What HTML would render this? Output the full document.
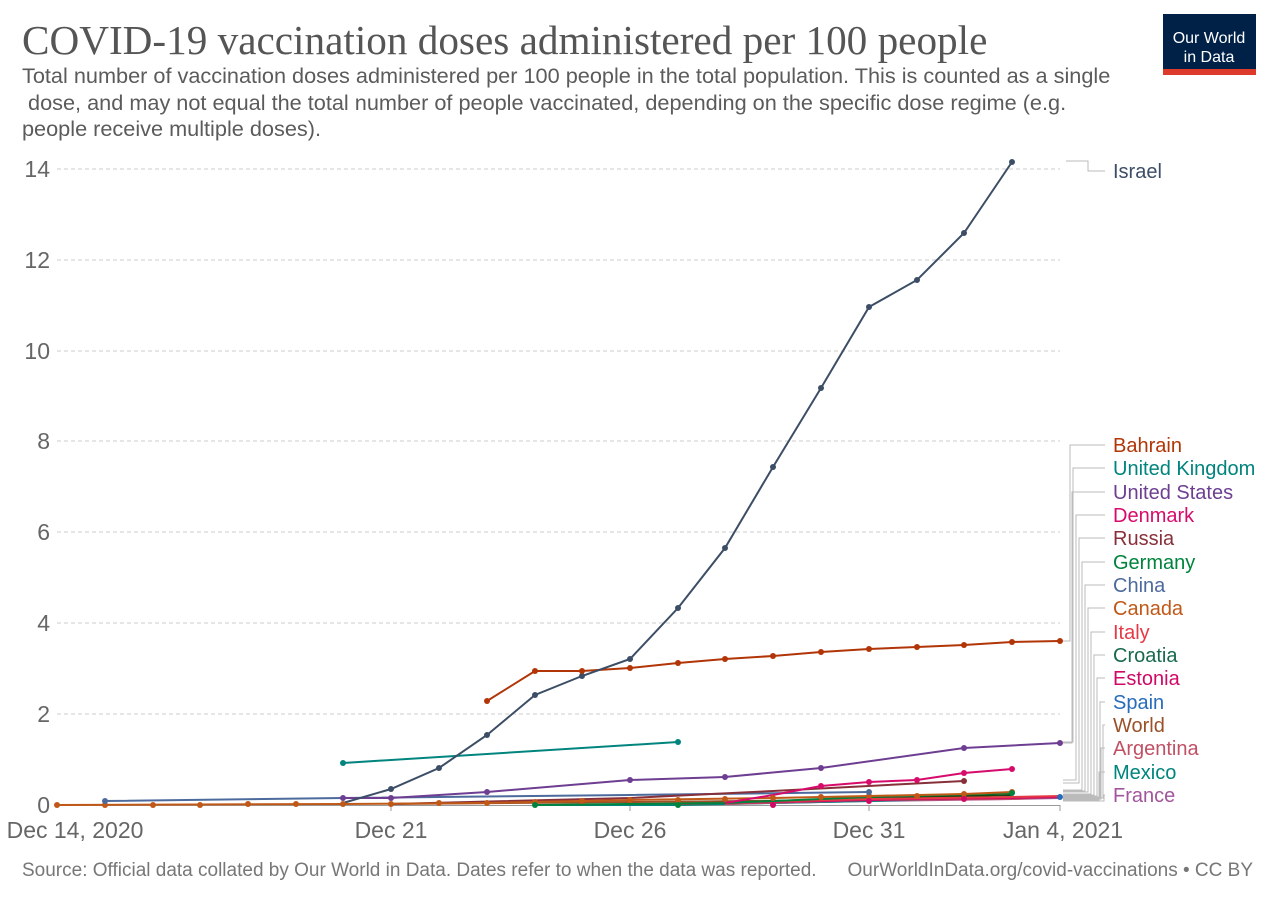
<!DOCTYPE html>
<html><head><meta charset="utf-8"><style>
body{margin:0;background:#fff;width:1280px;height:904px;overflow:hidden;font-family:"Liberation Sans",sans-serif}
</style></head><body>
<svg width="1280" height="904" xmlns="http://www.w3.org/2000/svg" font-family="Liberation Sans, sans-serif">
<text x="22" y="54" font-family="Liberation Serif, serif" font-size="41.2" fill="#555">COVID-19 vaccination doses administered per 100 people</text>
<text font-size="21.7" fill="#5b5b5b"><tspan x="22" y="83">Total number of vaccination doses administered per 100 people in the total population. This is counted as a single</tspan><tspan x="22" y="110"> dose, and may not equal the total number of people vaccinated, depending on the specific dose regime (e.g.</tspan><tspan x="22" y="136">people receive multiple doses).</tspan></text>
<rect x="1163" y="14" width="93" height="61" fill="#002147"/><rect x="1163" y="69" width="93" height="6" fill="#dc3b2c"/>
<text x="1209" y="43" font-size="16" fill="#fff" text-anchor="middle">Our World</text><text x="1209" y="62" font-size="16" fill="#fff" text-anchor="middle">in Data</text>
<g stroke="#ccc" stroke-dasharray="4,3" stroke-width="1">
<line x1="57" x2="1060" y1="169" y2="169"/><line x1="57" x2="1060" y1="260" y2="260"/><line x1="57" x2="1060" y1="351" y2="351"/><line x1="57" x2="1060" y1="441" y2="441"/><line x1="57" x2="1060" y1="532" y2="532"/><line x1="57" x2="1060" y1="623" y2="623"/><line x1="57" x2="1060" y1="714" y2="714"/></g>
<g font-size="23" fill="#666" text-anchor="end"><text x="50" y="177">14</text><text x="50" y="268">12</text><text x="50" y="359">10</text><text x="50" y="449">8</text><text x="50" y="540">6</text><text x="50" y="631">4</text><text x="50" y="722">2</text><text x="50" y="813">0</text></g>
<line x1="57" x2="1060" y1="805.5" y2="805.5" stroke="#999"/>
<g stroke="#999"><line x1="391" x2="391" y1="805" y2="811"/><line x1="630" x2="630" y1="805" y2="811"/><line x1="869" x2="869" y1="805" y2="811"/><line x1="1060" x2="1060" y1="805" y2="811"/></g>
<g font-size="23" fill="#666" text-anchor="middle"><text x="75" y="838">Dec 14, 2020</text><text x="391" y="838">Dec 21</text><text x="630" y="838">Dec 26</text><text x="869" y="838">Dec 31</text><text x="1063" y="838">Jan 4, 2021</text></g>
<g fill="none" stroke-width="2">
<polyline stroke="#a2559c" points="773,803 869,801 1012,799 1060,798"/>
<polyline stroke="#00847e" points="535,805 678,805 773,803 869,801 1012,797 1060,797"/>
<polyline stroke="#c15065" points="725,804 869,800 1012,799 1060,797"/>
<polyline stroke="#9a5129" points="391,804 630,802 869,800 1060,797"/>
<polyline stroke="#286bbb" points="869,799 1060,797"/>
<polyline stroke="#cf0a66" points="725,803 821,801 917,799 1012,798 1060,797"/>
<polyline stroke="#18470f" points="678,804 869,798 1012,795"/>
<polyline stroke="#e63946" points="678,804 869,799 1012,797 1060,796"/>
<polyline stroke="#4c6a9c" points="105,801 343,798 630,795 869,792"/>
<polyline stroke="#00843d" points="535,805 725,803 869,797 1012,793"/>
<polyline stroke="#883039" points="391,804 630,798 773,791 964,781"/>
<polyline stroke="#c05917" points="57,805 343,804 487,803 630,800 773,798 869,796 964,794 1012,792"/>
<polyline stroke="#d60b6b" points="725,803 773,795 821,786 869,782 917,780 964,773 1012,769"/>
<polyline stroke="#6d3e91" points="343,798 391,798 487,792 630,780 725,777 821,768 964,748 1060,743"/>
<polyline stroke="#00847e" points="343,763 678,742"/>
<polyline stroke="#b13507" points="487,701 535,671 582,671 630,668 678,663 725,659 773,656 821,652 869,649 917,647 964,645 1012,642 1060,641"/>
<polyline stroke="#3c4e66" points="343,803 391,789 439,768 487,735 535,695 582,676 630,659 678,608 725,548 773,467 821,388 869,307 917,280 964,233 1012,162"/>
</g>
<g fill="#3c4e66"><circle cx="391" cy="789" r="3"/><circle cx="439" cy="768" r="3"/><circle cx="487" cy="735" r="3"/><circle cx="535" cy="695" r="3"/><circle cx="582" cy="676" r="3"/><circle cx="630" cy="659" r="3"/><circle cx="678" cy="608" r="3"/><circle cx="725" cy="548" r="3"/><circle cx="773" cy="467" r="3"/><circle cx="821" cy="388" r="3"/><circle cx="869" cy="307" r="3"/><circle cx="917" cy="280" r="3"/><circle cx="964" cy="233" r="3"/><circle cx="1012" cy="162" r="3"/></g>
<g fill="#b13507"><circle cx="487" cy="701" r="3"/><circle cx="535" cy="671" r="3"/><circle cx="582" cy="671" r="3"/><circle cx="630" cy="668" r="3"/><circle cx="678" cy="663" r="3"/><circle cx="725" cy="659" r="3"/><circle cx="773" cy="656" r="3"/><circle cx="821" cy="652" r="3"/><circle cx="869" cy="649" r="3"/><circle cx="917" cy="647" r="3"/><circle cx="964" cy="645" r="3"/><circle cx="1012" cy="642" r="3"/><circle cx="1060" cy="641" r="3"/></g>
<g fill="#00847e"><circle cx="343" cy="763" r="3"/><circle cx="678" cy="742" r="3"/></g>
<g fill="#6d3e91"><circle cx="343" cy="798" r="3"/><circle cx="391" cy="798" r="3"/><circle cx="487" cy="792" r="3"/><circle cx="630" cy="780" r="3"/><circle cx="725" cy="777" r="3"/><circle cx="821" cy="768" r="3"/><circle cx="964" cy="748" r="3"/><circle cx="1060" cy="743" r="3"/></g>
<g fill="#d60b6b"><circle cx="821" cy="786" r="3"/><circle cx="869" cy="782" r="3"/><circle cx="917" cy="780" r="3"/><circle cx="964" cy="773" r="3"/><circle cx="1012" cy="769" r="3"/></g>
<g fill="#c05917"><circle cx="57" cy="805" r="3"/><circle cx="105" cy="805" r="3"/><circle cx="153" cy="805" r="3"/><circle cx="200" cy="805" r="3"/><circle cx="248" cy="804" r="3"/><circle cx="296" cy="804" r="3"/><circle cx="343" cy="804" r="3"/><circle cx="391" cy="804" r="3"/><circle cx="439" cy="803" r="3"/><circle cx="487" cy="803" r="3"/><circle cx="535" cy="802" r="3"/><circle cx="582" cy="801" r="3"/><circle cx="630" cy="800" r="3"/><circle cx="678" cy="800" r="3"/><circle cx="725" cy="799" r="3"/><circle cx="773" cy="798" r="3"/><circle cx="821" cy="797" r="3"/><circle cx="869" cy="796" r="3"/><circle cx="917" cy="796" r="3"/><circle cx="964" cy="794" r="3"/><circle cx="1012" cy="792" r="3"/></g>
<circle cx="105" cy="801" r="3" fill="#4c6a9c"/><circle cx="869" cy="792" r="3" fill="#4c6a9c"/>
<circle cx="964" cy="781" r="3" fill="#883039"/><circle cx="1060" cy="797" r="3" fill="#286bbb"/>
<g fill="#00843d"><circle cx="535" cy="805" r="3"/><circle cx="678" cy="805" r="3"/><circle cx="1012" cy="793" r="3"/></g>
<g fill="#cf0a66"><circle cx="773" cy="805" r="3"/><circle cx="869" cy="801" r="3"/><circle cx="964" cy="799" r="3"/></g>
<g fill="none" stroke="#bbb" stroke-width="1">
<polyline points="1066,161 1088,161 1088,171 1105,171"/>
<polyline points="1063,641 1070,641 1070,445 1105,445"/>
<polyline points="1063,742 1073,742 1073,468 1105,468"/>
<polyline points="1063,743 1072,743 1072,492 1105,492"/>
<polyline points="1063,780 1076,780 1076,515 1105,515"/>
<polyline points="1063,783 1079,783 1079,538 1105,538"/>
<polyline points="1063,790 1082,790 1082,562 1105,562"/>
<polyline points="1063,791 1085,791 1085,585 1105,585"/>
<polyline points="1063,792 1088,792 1088,608 1105,608"/>
<polyline points="1063,794 1091,794 1091,632 1105,632"/>
<polyline points="1063,795 1094,795 1094,655 1105,655"/>
<polyline points="1063,796 1097,796 1097,678 1105,678"/>
<polyline points="1063,797 1100,797 1100,702 1105,702"/>
<polyline points="1063,798 1103,798 1103,725 1105,725"/>
<polyline points="1063,799 1101,799 1101,748 1105,748"/>
<polyline points="1063,800 1099,800 1099,772 1105,772"/>
<polyline points="1063,801 1104,801 1104,795 1105,795"/>
</g>
<g font-size="20">
<text x="1113" y="178" fill="#3c4e66">Israel</text>
<text x="1113" y="452" fill="#b13507">Bahrain</text>
<text x="1113" y="475" fill="#00847e">United Kingdom</text>
<text x="1113" y="499" fill="#6d3e91">United States</text>
<text x="1113" y="522" fill="#d60b6b">Denmark</text>
<text x="1113" y="545" fill="#883039">Russia</text>
<text x="1113" y="569" fill="#00843d">Germany</text>
<text x="1113" y="592" fill="#4c6a9c">China</text>
<text x="1113" y="615" fill="#c05917">Canada</text>
<text x="1113" y="639" fill="#e63946">Italy</text>
<text x="1113" y="662" fill="#18694f">Croatia</text>
<text x="1113" y="685" fill="#cf0a66">Estonia</text>
<text x="1113" y="709" fill="#286bbb">Spain</text>
<text x="1113" y="732" fill="#9a5129">World</text>
<text x="1113" y="755" fill="#c15065">Argentina</text>
<text x="1113" y="779" fill="#00847e">Mexico</text>
<text x="1113" y="802" fill="#a2559c">France</text>
</g>
<g font-size="19" fill="#777"><text x="22" y="876">Source: Official data collated by Our World in Data. Dates refer to when the data was reported.</text><text x="1253" y="876" text-anchor="end">OurWorldInData.org/covid-vaccinations • CC BY</text></g>
</svg>
</body></html>
